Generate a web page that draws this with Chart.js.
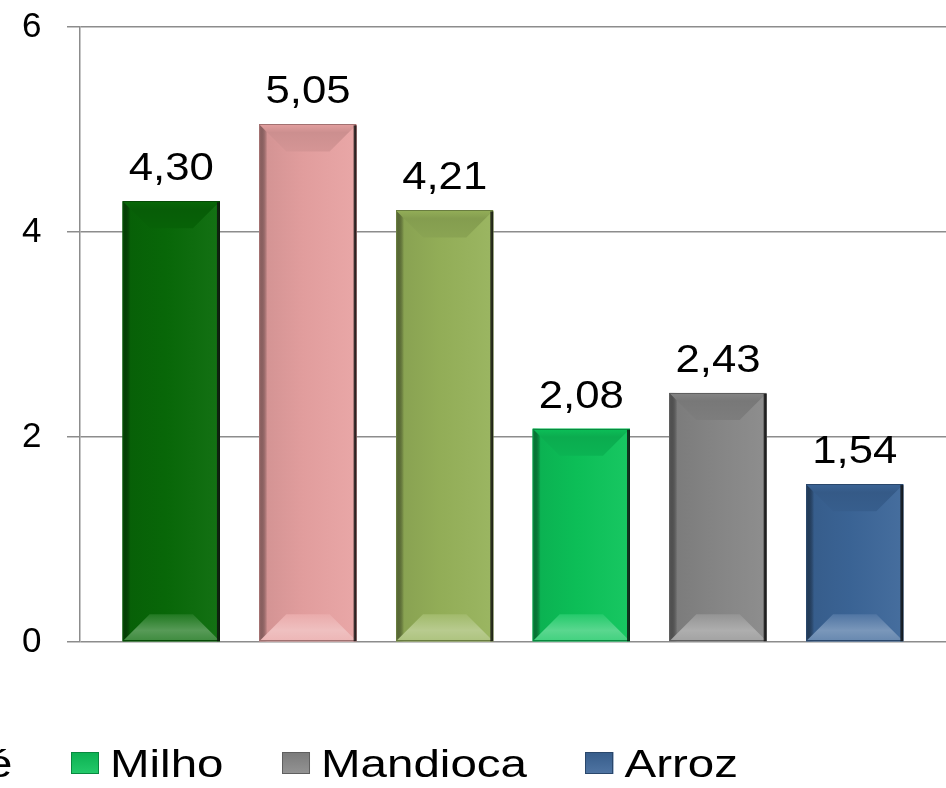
<!DOCTYPE html>
<html><head><meta charset="utf-8">
<script src="https://cdn.jsdelivr.net/npm/chart.js@4"></script>
<style>html,body{margin:0;padding:0;background:#fff;overflow:hidden}#wrap{position:relative;width:946px;height:788px}</style>
</head><body><div id="wrap"><canvas id="c" width="946" height="788"></canvas></div>
<script>
// ---- data ----
const categories = ['Soja', 'Feijão', 'Café', 'Milho', 'Mandioca', 'Arroz'];
const values = [4.30, 5.05, 4.21, 2.08, 2.43, 1.54];
const yTicks = [0, 2, 4, 6];
// ---- styles ----
const colors = ['#086a08', '#e8a2a2', '#96b25a', '#0cc45a', '#888888', '#3c6699'];
const FONT = "'Liberation Sans', Arial, sans-serif";

function shade(hex, f) {
  const n = parseInt(hex.slice(1), 16);
  let r = n >> 16, g = (n >> 8) & 255, b = n & 255;
  if (f < 0) { r *= (1 + f); g *= (1 + f); b *= (1 + f); }
  else { r += (255 - r) * f; g += (255 - g) * f; b += (255 - b) * f; }
  return `rgb(${Math.round(r)},${Math.round(g)},${Math.round(b)})`;
}

const bevelPlugin = {
  id: 'bevel',
  afterDatasetsDraw(chart) {
    const ctx = chart.ctx;
    chart.data.datasets.forEach((ds, i) => {
      const el = chart.getDatasetMeta(i).data[0];
      if (!el) return;
      const c = ds.backgroundColor;
      const L = el.x - el.width / 2, R = el.x + el.width / 2, T = el.y, B = el.base;
      const W = R - L;
      const bv = Math.min(27, (B - T) / 2, W / 2);
      ctx.save();
      // front face with horizontal gradient
      let g = ctx.createLinearGradient(L, 0, R, 0);
      g.addColorStop(0, shade(c, -0.1)); g.addColorStop(0.45, shade(c, -0.03)); g.addColorStop(1, shade(c, 0.05));
      ctx.fillStyle = g;
      ctx.fillRect(L, T, W, B - T);
      // left edge strip
      g = ctx.createLinearGradient(L, 0, L + 8, 0);
      g.addColorStop(0, shade(c, -0.35)); g.addColorStop(1, 'rgba(0,0,0,0)');
      ctx.fillStyle = g;
      ctx.fillRect(L, T, 8, B - T);
      // top face
      g = ctx.createLinearGradient(0, T, 0, T + bv);
      g.addColorStop(0, shade(c, -0.02)); g.addColorStop(0.3, shade(c, -0.12)); g.addColorStop(1, shade(c, -0.08));
      ctx.fillStyle = g;
      ctx.beginPath(); ctx.moveTo(L, T); ctx.lineTo(R, T); ctx.lineTo(R - bv, T + bv); ctx.lineTo(L + bv, T + bv); ctx.closePath(); ctx.fill();
      // bottom face
      g = ctx.createLinearGradient(0, B - bv, 0, B);
      g.addColorStop(0, shade(c, 0.1)); g.addColorStop(0.6, shade(c, 0.32)); g.addColorStop(1, shade(c, 0.22));
      ctx.fillStyle = g;
      ctx.beginPath(); ctx.moveTo(L, B); ctx.lineTo(R, B); ctx.lineTo(R - bv, B - bv); ctx.lineTo(L + bv, B - bv); ctx.closePath(); ctx.fill();
      // outline
      ctx.strokeStyle = shade(c, -0.3); ctx.lineWidth = 1;
      ctx.strokeRect(Math.round(L) + 0.5, Math.round(T) + 0.5, Math.round(W) - 1, Math.round(B - T) - 1);
      // right shadow edge
      ctx.fillStyle = 'rgba(15,15,15,0.8)';
      ctx.fillRect(R - 3, T + 1, 3, B - T - 1);
      ctx.restore();
    });
  }
};

const labelPlugin = {
  id: 'vals',
  afterDatasetsDraw(chart) {
    const ctx = chart.ctx;
    ctx.save();
    ctx.font = `38px ${FONT}`;
    ctx.fillStyle = '#000';
    ctx.textAlign = 'center';
    ctx.textBaseline = 'alphabetic';
    chart.data.datasets.forEach((ds, i) => {
      const el = chart.getDatasetMeta(i).data[0];
      const t = ds.data[0].toFixed(2).replace('.', ',');
      ctx.save();
      ctx.translate(el.x, el.y - 21);
      ctx.scale(1.15, 1);
      ctx.fillText(t, 0, 0);
      ctx.restore();
    });
    ctx.restore();
  }
};

const legendPlugin = {
  id: 'lgd',
  afterDraw(chart) {
    const ctx = chart.ctx;
    ctx.save();
    const fs = 38, sx = 1.25, boxW = 28, boxH = 22, gap = 11, spacing = 58.5;
    const anchorIdx = 3, anchorX = 71, boxTop = 752, baseY = 777;
    ctx.font = `${fs}px ${FONT}`;
    const items = chart.data.datasets.map(ds => ({
      text: ds.label, color: ds.backgroundColor,
      w: boxW + gap + ctx.measureText(ds.label).width * sx
    }));
    let x = anchorX;
    for (let i = anchorIdx - 1; i >= 0; i--) x -= items[i].w + spacing;
    items.forEach(it => {
      const g = ctx.createLinearGradient(0, boxTop, 0, boxTop + boxH);
      g.addColorStop(0, shade(it.color, -0.1)); g.addColorStop(1, shade(it.color, 0.1));
      ctx.fillStyle = g;
      ctx.fillRect(x, boxTop, boxW, boxH);
      ctx.strokeStyle = shade(it.color, -0.3); ctx.lineWidth = 1;
      ctx.strokeRect(Math.round(x) + 0.5, boxTop + 0.5, boxW - 1, boxH - 1);
      ctx.fillStyle = '#000';
      ctx.textAlign = 'left'; ctx.textBaseline = 'alphabetic';
      ctx.save();
      ctx.translate(x + boxW + gap, baseY);
      ctx.scale(sx, 1);
      ctx.fillText(it.text, 0, 0);
      ctx.restore();
      x += it.w + spacing;
    });
    ctx.restore();
  }
};

const datasets = categories.map((name, i) => ({
  label: name,
  data: [values[i]],
  backgroundColor: colors[i],
  borderWidth: 0,
  categoryPercentage: 0.947,
  barPercentage: 0.712
}));

new Chart(document.getElementById('c'), {
  type: 'bar',
  data: { labels: [''], datasets },
  options: {
    responsive: false,
    animation: false,
    devicePixelRatio: 1,
    layout: { padding: { left: 22, top: 10, right: 0, bottom: 146 } },
    plugins: { legend: { display: false }, tooltip: { enabled: false } },
    scales: {
      x: { display: false },
      y: {
        min: 0, max: 6,
        afterBuildTicks: s => { s.ticks = yTicks.map(v => ({ value: v })); },
        afterFit: s => { s.width = 58; },
        ticks: { font: { family: FONT, size: 35 }, color: '#000', padding: 6, crossAlign: 'far' },
        grid: { color: '#8c8c8c', lineWidth: 1.5, tickLength: 13, drawTicks: true },
        border: { display: true, color: '#8c8c8c', width: 1.5 }
      }
    }
  },
  plugins: [bevelPlugin, labelPlugin, legendPlugin]
});
</script>
</body></html>
